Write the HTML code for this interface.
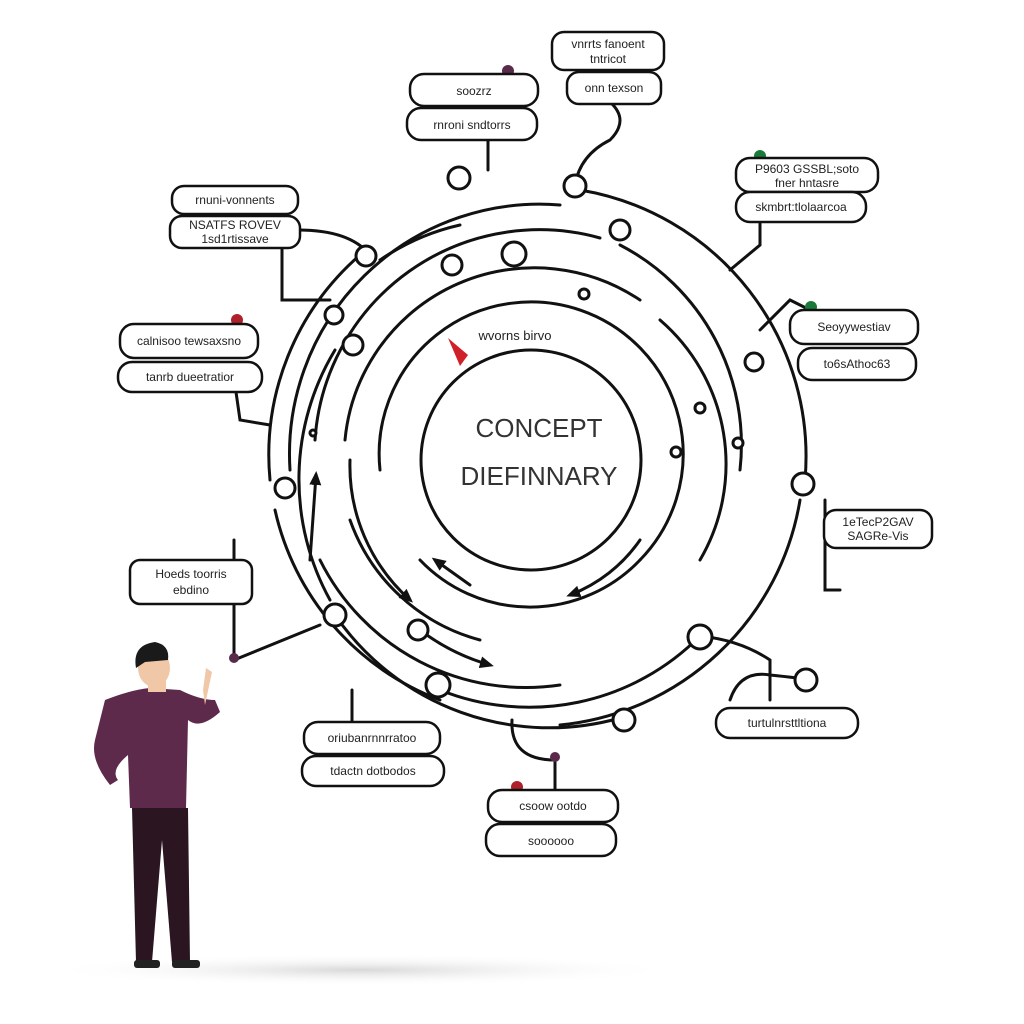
<!DOCTYPE html>
<html><head><meta charset="utf-8"><style>
html,body{margin:0;padding:0;background:#fff;}
svg{display:block}
text{font-family:"Liberation Sans",sans-serif;fill:#222}
</style></head><body>
<svg width="1024" height="1024" viewBox="0 0 1024 1024" xmlns="http://www.w3.org/2000/svg">
<defs>
<radialGradient id="sh" cx="50%" cy="50%" r="50%"><stop offset="0" stop-color="#d8d8d8"/><stop offset="1" stop-color="#fff" stop-opacity="0"/></radialGradient>
<marker id="ar" markerUnits="userSpaceOnUse" markerWidth="14" markerHeight="12" refX="10" refY="6" orient="auto"><path d="M0,0 L14,6 L0,12 z" fill="#111"/></marker>
</defs>
<ellipse cx="360" cy="970" rx="320" ry="16" fill="url(#sh)"/>
<g fill="none" stroke="#111" stroke-width="3" stroke-linecap="round">
<circle cx="531" cy="460" r="110"/>
<path d="M380,470 A152,152 0 1 1 640,560"/>
<path d="M640,560 A152,152 0 0 1 420,560"/>
<path d="M345,440 A190,190 0 0 1 640,300"/>
<path d="M660,320 A190,190 0 0 1 700,560"/>
<path d="M350,520 A190,190 0 0 0 480,640"/>
<path d="M315,440 A225,225 0 0 1 600,238"/>
<path d="M620,245 A225,225 0 0 1 740,470"/>
<path d="M320,560 A230,230 0 0 0 560,685"/>
<path d="M290,470 A250,250 0 0 1 560,205"/>
<path d="M580,190 A270,270 0 0 1 805,480"/>
<path d="M800,500 A270,270 0 0 1 560,725"/>
<path d="M270,480 A265,265 0 0 1 360,255"/>
<path d="M275,510 A265,265 0 0 0 440,700"/>
<path d="M335,615 A260,260 0 0 0 620,718"/>
<path d="M700,636 A240,240 0 0 1 440,690"/>
<path d="M335,350 A250,250 0 0 0 330,600"/>
<path d="M380,260 A230,230 0 0 1 460,225"/>
<path d="M350,460 A180,180 0 0 0 410,600" marker-end="url(#ar)"/>
<path d="M420,630 A210,210 0 0 0 490,665" marker-end="url(#ar)"/>
<path d="M640,540 A150,150 0 0 1 570,595" marker-end="url(#ar)"/>
<path d="M310,560 L316,475" marker-end="url(#ar)"/>
<path d="M470,585 L435,560" marker-end="url(#ar)"/>
<path d="M488,140 L488,170"/>
<path d="M575,185 Q580,155 610,140 Q630,120 610,102"/>
<path d="M298,230 Q350,230 370,255"/>
<path d="M282,248 L282,300 L330,300"/>
<path d="M236,392 L240,420 L270,425"/>
<path d="M760,222 L760,245 L730,270"/>
<path d="M810,310 L790,300 L760,330"/>
<path d="M825,500 L825,590 L840,590"/>
<path d="M234,540 L234,660 L320,625"/>
<path d="M700,636 Q740,640 770,660 L770,700"/>
<path d="M352,690 L352,722"/>
<path d="M512,720 Q510,760 555,760 L555,790"/>
<path d="M730,700 Q740,670 770,675 Q800,678 810,680"/>
</g>
<g fill="#fff" stroke="#111" stroke-width="3">
<circle cx="459" cy="178" r="11"/><circle cx="575" cy="186" r="11"/>
<circle cx="620" cy="230" r="10"/><circle cx="514" cy="254" r="12"/>
<circle cx="452" cy="265" r="10"/><circle cx="366" cy="256" r="10"/>
<circle cx="334" cy="315" r="9"/><circle cx="353" cy="345" r="10"/>
<circle cx="754" cy="362" r="9"/><circle cx="285" cy="488" r="10"/>
<circle cx="803" cy="484" r="11"/><circle cx="335" cy="615" r="11"/>
<circle cx="418" cy="630" r="10"/><circle cx="700" cy="637" r="12"/>
<circle cx="438" cy="685" r="12"/><circle cx="624" cy="720" r="11"/>
<circle cx="806" cy="680" r="11"/><circle cx="584" cy="294" r="5"/>
<circle cx="700" cy="408" r="5"/><circle cx="738" cy="443" r="5"/>
<circle cx="676" cy="452" r="5"/><circle cx="313" cy="433" r="3"/>
</g>
<circle cx="508" cy="71" r="6" fill="#5a2a4a"/><circle cx="760" cy="156" r="6" fill="#1a7a3a"/>
<circle cx="811" cy="307" r="6" fill="#1a7a3a"/><circle cx="237" cy="320" r="6" fill="#b0202a"/>
<circle cx="234" cy="658" r="5" fill="#5a2a4a"/><circle cx="517" cy="787" r="6" fill="#b0202a"/>
<circle cx="555" cy="757" r="5" fill="#5a2a4a"/>
<path d="M448,338 L468,355 L460,366 z" fill="#d0202a"/>
<text x="539" y="437" font-size="26" text-anchor="middle" style="fill:#333">CONCEPT</text>
<text x="539" y="485" font-size="26" text-anchor="middle" style="fill:#333">DIEFINNARY</text>
<text x="515" y="340" font-size="13" text-anchor="middle">wvorns birvo</text>
<g fill="#fff" stroke="#111" stroke-width="2.5">
<rect x="552" y="32" width="112" height="38" rx="12"/><rect x="567" y="72" width="94" height="32" rx="12"/>
<rect x="410" y="74" width="128" height="32" rx="14"/><rect x="407" y="108" width="130" height="32" rx="14"/>
<rect x="172" y="186" width="126" height="28" rx="12"/><rect x="170" y="216" width="130" height="32" rx="12"/>
<rect x="120" y="324" width="138" height="34" rx="14"/><rect x="118" y="362" width="144" height="30" rx="14"/>
<rect x="736" y="158" width="142" height="34" rx="14"/><rect x="736" y="192" width="130" height="30" rx="14"/>
<rect x="790" y="310" width="128" height="34" rx="14"/><rect x="798" y="348" width="118" height="32" rx="14"/>
<rect x="824" y="510" width="108" height="38" rx="12"/>
<rect x="130" y="560" width="122" height="44" rx="10"/>
<rect x="716" y="708" width="142" height="30" rx="14"/>
<rect x="304" y="722" width="136" height="32" rx="14"/><rect x="302" y="756" width="142" height="30" rx="14"/>
<rect x="488" y="790" width="130" height="32" rx="14"/><rect x="486" y="824" width="130" height="32" rx="14"/>
</g>
<g font-size="12" text-anchor="middle">
<text x="608" y="48">vnrrts fanoent</text><text x="608" y="63">tntricot</text>
<text x="614" y="92">onn texson</text>
<text x="474" y="95">soozrz</text><text x="472" y="129">rnroni sndtorrs</text>
<text x="235" y="204">rnuni-vonnents</text><text x="235" y="229">NSATFS ROVEV</text><text x="235" y="243">1sd1rtissave</text>
<text x="189" y="345">calnisoo tewsaxsno</text><text x="190" y="381">tanrb dueetratior</text>
<text x="807" y="173">P9603 GSSBL;soto</text><text x="807" y="187">fner hntasre</text>
<text x="801" y="211">skmbrt:tlolaarcoa</text>
<text x="854" y="331">Seoyywestiav</text><text x="857" y="368">to6sAthoc63</text>
<text x="878" y="526">1eTecP2GAV</text><text x="878" y="540">SAGRe-Vis</text>
<text x="191" y="578">Hoeds toorris</text><text x="191" y="594">ebdino</text>
<text x="787" y="727">turtulnrsttltiona</text>
<text x="372" y="742">oriubanrnnrratoo</text><text x="373" y="775">tdactn dotbodos</text>
<text x="553" y="810">csoow ootdo</text><text x="551" y="845">soooooo</text>
</g>
<g>
<path d="M105,700 Q130,690 150,688 L180,690 Q200,700 215,700 L220,712 Q200,730 188,720 L186,808 L130,808 L128,755 Q110,770 118,780 L110,785 Q90,760 95,740 Z" fill="#5e2a4c"/>
<path d="M205,705 L212,672 L206,668 L203,690 Z" fill="#f0c8a8"/>
<rect x="148" y="670" width="18" height="22" fill="#f0c8a8"/>
<ellipse cx="154" cy="668" rx="16" ry="19" fill="#f0c8a8"/>
<path d="M136,668 Q132,645 155,642 Q170,645 168,660 L145,662 Z" fill="#1a1a1a"/>
<path d="M132,808 L188,808 L190,962 L172,962 L162,840 L152,962 L136,962 Z" fill="#2a1520"/>
<rect x="134" y="960" width="26" height="8" rx="3" fill="#222"/>
<rect x="172" y="960" width="28" height="8" rx="3" fill="#222"/>
</g>
</svg>
</body></html>
